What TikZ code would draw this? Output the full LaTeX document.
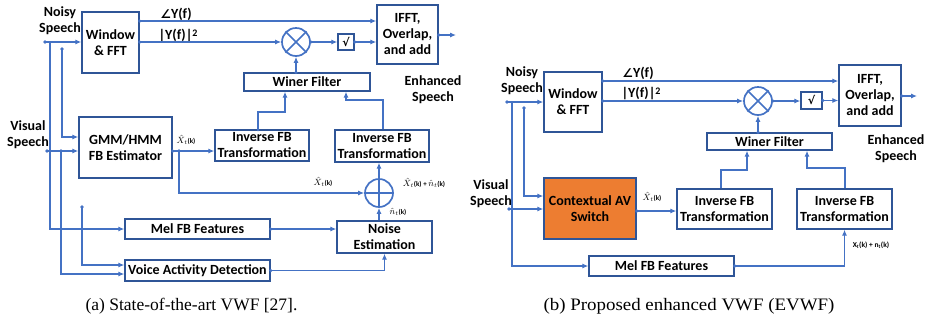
\documentclass[tikz,border=0pt]{standalone}
\usepackage{fontspec}
\setmainfont{Carlito}
\newfontfamily\capfont{Liberation Serif}
\newfontfamily\symfont{DejaVu Sans}
\usetikzlibrary{arrows.meta}
\definecolor{lineblue}{HTML}{4472C4}
\definecolor{boxblue}{HTML}{2F5597}
\definecolor{avorange}{HTML}{ED7D31}
\newcommand\myXhat{{\fontsize{9}{9}\selectfont$\hat{X}_t$}{\fontsize{7}{7}\selectfont\bfseries(k)}}
\newcommand\mynhat{{\fontsize{9}{9}\selectfont$\hat{n}_t$}{\fontsize{7}{7}\selectfont\bfseries(k)}}
\begin{document}
\begin{tikzpicture}[x=1pt,y=-1pt,
  blk/.style={draw=boxblue, line width=1.4pt, fill=white, align=center,
    font=\fontsize{14}{16}\selectfont\bfseries, inner sep=0pt},
  conn/.style={draw=lineblue, line width=1.1pt, -{Latex[length=6pt,width=5pt]}},
  dotc/.style={circle, fill=lineblue, inner sep=0pt, minimum size=3.6pt},
  lbl/.style={font=\fontsize{14}{16}\selectfont\bfseries, align=center},
  sml/.style={inner sep=0pt},
  ring/.style={circle, draw=lineblue, line width=1.7pt, minimum size=28pt, inner sep=0pt},
  captext/.style={font=\capfont\fontsize{17.5}{19}\selectfont}
]
\useasboundingbox (0,0) rectangle (925,325);

% ================= (a) =================
\node[blk, minimum width=57pt, minimum height=61pt] (winA) at (110.5,42.5) {Window\\\& FFT};
\node[blk, minimum width=93pt, minimum height=61pt] (gmmA) at (125.5,147.5) {GMM/HMM\\FB Estimator};
\node[blk, minimum width=94pt, minimum height=31pt] (inv1A) at (262,145.5) {Inverse FB\\Transformation};
\node[blk, minimum width=94pt, minimum height=32pt] (inv2A) at (382,146) {Inverse FB\\Transformation};
\node[blk, minimum width=126pt, minimum height=18pt] (winerA) at (307,82) {Winer Filter};
\node[ring] (multA) at (296,42) {};
\draw[lineblue, line width=1.7pt] (multA.north east) -- (multA.south west) (multA.north west) -- (multA.south east);
\node[blk, minimum width=16pt, minimum height=16pt] (sqrtA) at (346,42) {\symfont\fontsize{11}{11}\selectfont √};
\node[blk, minimum width=61pt, minimum height=59pt] (ifftA) at (407.5,34.5) {IFFT,\\Overlap,\\and add};
\node[ring] (plusA) at (379,193) {};
\draw[lineblue, line width=1.7pt] (plusA.north) -- (plusA.south) (plusA.west) -- (plusA.east);
\node[blk, minimum width=95pt, minimum height=32pt] (noiseA) at (384.5,237) {Noise\\Estimation};
\node[blk, minimum width=145pt, minimum height=20pt] (melA) at (197.5,229) {Mel FB Features};
\node[blk, minimum width=145pt, minimum height=21pt] (vadA) at (197.5,270.5) {Voice Activity Detection};

\node[lbl] (noisyA) at (60,21) {Noisy\\Speech};
\node[lbl] (visA) at (28,134.5) {Visual\\Speech};
\node[lbl] (enhA) at (433,90) {Enhanced\\Speech};
\node[lbl] (angA) at (176,14) {{\symfont\fontsize{12}{12}\selectfont ∠}Y(f)};
\node[lbl] (magA) at (178,35) {|Y(f)|\raisebox{0.45ex}{\fontsize{10}{10}\selectfont 2}};

% connectors (a)
\coordinate (nsA) at (45,42);
\node[dotc] at (nsA) {};
\draw[conn] (nsA) -- (nsA -| winA.west);
\draw[conn] (50,42) |- (melA.west);
\node[dotc] (dA1) at (62,49) {};
\draw[conn] (dA1.center) |- (gmmA.west |- 0,137);
\coordinate (vsA) at (47,151);
\node[dotc] at (vsA) {};
\draw[conn] (vsA) -- (vsA -| gmmA.west);
\node[dotc] (dA2) at (61,151) {};
\draw[conn] (dA2.center) |- (vadA.west |- 0,274);
\node[dotc] (dA3) at (82,207) {};
\draw[conn] (dA3.center) |- (vadA.west |- 0,265);

\node[dotc] (gA) at (gmmA.east |- 0,151) {};
\draw[conn] (gA.center) -- (inv1A.west |- 0,151);
\node[sml] (xA1) at (186,140) {\myXhat};
\node[dotc] (gA2) at (179,151) {};
\draw[conn] (gA2.center) |- (plusA.west);
\node[sml] (xA2) at (323,182) {\myXhat};

\node[dotc] (mA) at (winA.east |- multA) {};
\draw[conn] (mA.center) -- (multA.west);
\node[dotc] (aA) at (winA.east |- 0,21) {};
\draw[conn] (aA.center) -- (ifftA.west |- 0,21);
\node[dotc] (m2A) at (multA.east) {};
\draw[conn] (m2A.center) -- (sqrtA.west);
\node[dotc] (s2A) at (sqrtA.east) {};
\draw[conn] (s2A.center) -- (ifftA.west |- sqrtA);
\node[dotc] (oA) at (ifftA.east |- 0,35) {};
\coordinate (outA) at (456,35);
\draw[conn] (oA.center) -- (outA);
\node[dotc] (wA) at (winerA.north -| multA) {};
\draw[conn] (wA.center) -- (multA.south);
\node[dotc, minimum size=2.6pt] (i1A) at (258,130) {};
\draw[conn] (i1A.center) -- (258,112) -| (winerA.south -| 285,0);
\draw[conn] (inv2A.north -| 383,0) -- (383,100) -| (winerA.south -| 346,0);
\draw[conn] (plusA.north) -- (inv2A.south -| plusA);
\draw[conn] (noiseA.north -| plusA) -- (plusA.south);
\node[sml] (xnA) at (424,183) {\myXhat\,{\fontsize{7}{7}\selectfont\bfseries+}\,\mynhat};
\node[sml] (nA) at (398,212) {\mynhat};
\node[dotc] (meA) at (melA.east) {};
\draw[conn] (meA.center) -- (noiseA.west |- melA);
\node[dotc] (vaA) at (vadA.east) {};
\draw[conn] (vaA.center) -| (noiseA.south);

% ================= (b) =================
\node[blk, minimum width=58pt, minimum height=60pt] (winB) at (573,102) {Window\\\& FFT};
\node[blk, fill=avorange, minimum width=92pt, minimum height=61pt] (cavB) at (590,208.5) {Contextual AV\\Switch};
\node[blk, minimum width=95pt, minimum height=40pt] (inv1B) at (724.5,209) {Inverse FB\\Transformation};
\node[blk, minimum width=95pt, minimum height=40pt] (inv2B) at (844.5,209) {Inverse FB\\Transformation};
\node[blk, minimum width=125pt, minimum height=17pt] (winerB) at (769.5,141.5) {Winer Filter};
\node[ring] (multB) at (758,101) {};
\draw[lineblue, line width=1.7pt] (multB.north east) -- (multB.south west) (multB.north west) -- (multB.south east);
\node[blk, minimum width=21pt, minimum height=17pt] (sqrtB) at (811.5,100.5) {\symfont\fontsize{11}{11}\selectfont √};
\node[blk, minimum width=62pt, minimum height=61pt] (ifftB) at (870,95.5) {IFFT,\\Overlap,\\and add};
\node[blk, minimum width=145pt, minimum height=20pt] (melB) at (661.5,266) {Mel FB Features};

\node[lbl] (noisyB) at (522,81) {Noisy\\Speech};
\node[lbl] (visB) at (491,193.5) {Visual\\Speech};
\node[lbl] (enhB) at (896,149) {Enhanced\\Speech};
\node[lbl] (angB) at (638,73) {{\symfont\fontsize{12}{12}\selectfont ∠}Y(f)};
\node[lbl] (magB) at (641,93) {|Y(f)|\raisebox{0.45ex}{\fontsize{10}{10}\selectfont 2}};

\coordinate (nsB) at (507,102);
\node[dotc] at (nsB) {};
\draw[conn] (nsB) -- (nsB -| winB.west);
\draw[conn] (512,102) |- (melB.west);
\node[dotc] (dB1) at (524,108) {};
\draw[conn] (dB1.center) |- (cavB.west |- 0,196);
\coordinate (vsB) at (509,209);
\node[dotc] at (vsB) {};
\draw[conn] (vsB) -- (vsB -| cavB.west);
\node[dotc] (cB) at (cavB.east |- 0,211) {};
\draw[conn] (cB.center) -- (inv1B.west |- 0,211);
\node[sml] (xB1) at (652,197) {\myXhat};

\node[dotc] (aB) at (winB.east |- 0,81) {};
\draw[conn] (aB.center) -- (ifftB.west |- 0,81);
\node[dotc] (mB) at (winB.east |- multB) {};
\draw[conn] (mB.center) -- (multB.west);
\node[dotc] (m2B) at (multB.east) {};
\draw[conn] (m2B.center) -- (sqrtB.west |- multB);
\node[dotc] (s2B) at (sqrtB.east) {};
\draw[conn] (s2B.center) -- (ifftB.west |- sqrtB);
\node[dotc] (oB) at (ifftB.east |- 0,96) {};
\coordinate (outB) at (917,96);
\draw[conn] (oB.center) -- (outB);
\node[dotc] (wB) at (winerB.north -| multB) {};
\draw[conn] (wB.center) -- (multB.south);
\draw[conn] (inv1B.north -| 721,0) -- (721,170) -| (winerB.south -| 747,0);
\draw[conn] (inv2B.north -| 845,0) -- (845,168) -| (winerB.south -| 807,0);
\node[dotc] (meB) at (melB.east) {};
\draw[conn] (meB.center) -| (inv2B.south);
\node[sml] (xnB) at (871,245) {\fontsize{7.5}{8}\selectfont\bfseries X\textsubscript{t}(k) + n\textsubscript{t}(k)};

% captions
\node[captext] (capA) at (191.5,306) {(a) State-of-the-art VWF [27].};
\node[captext] (capB) at (689,306) {\scalebox{1.08}[1]{(b) Proposed enhanced VWF (EVWF)}};
\end{tikzpicture}
\end{document}
